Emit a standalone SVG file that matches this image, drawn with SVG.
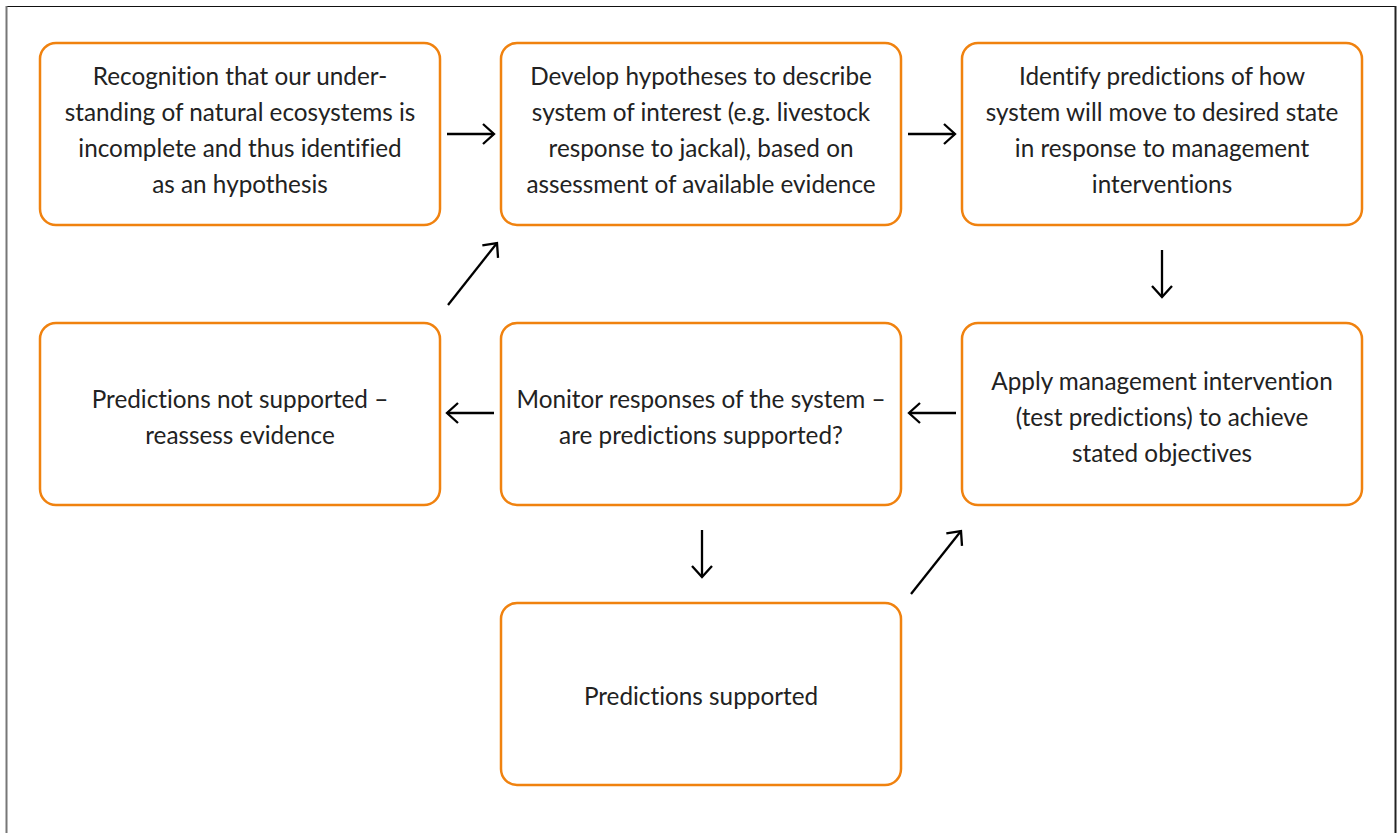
<svg xmlns="http://www.w3.org/2000/svg" width="1400" height="833" viewBox="0 0 1400 833">
<defs>
<marker id="ah" viewBox="0 0 16 24" refX="13" refY="12" markerWidth="16" markerHeight="24" markerUnits="userSpaceOnUse" orient="auto">
<path d="M2,2 L13,12 L2,22" fill="none" stroke="#000" stroke-width="2.3"/>
</marker>
<style>
.box{fill:#fff;stroke:#F0820F;stroke-width:2.5}
.t{font-family:Lato,"Open Sans","Liberation Sans",sans-serif;font-size:24.3px;fill:#222;text-anchor:middle;font-variant-ligatures:none}
.c{stroke:#000;stroke-width:2.3;fill:none;marker-end:url(#ah)}
</style>
</defs>
<rect width="1400" height="833" fill="#fff"/>
<line x1="6" y1="6.5" x2="1396" y2="6.5" stroke="#111" stroke-width="1"/>
<line x1="6.5" y1="6" x2="6.5" y2="833" stroke="#777" stroke-width="2"/>
<line x1="1395.5" y1="6" x2="1395.5" y2="833" stroke="#222" stroke-width="2"/>
<g id="n1"><rect class="box" x="40" y="43" width="400" height="182" rx="16"/>
<text class="t" x="240"><tspan x="240" y="85">Recognition that our under-</tspan><tspan x="240" y="121">standing of natural ecosystems is</tspan><tspan x="240" y="157">incomplete and thus identified</tspan><tspan x="240" y="193">as an hypothesis</tspan></text></g>
<g id="n2"><rect class="box" x="501" y="43" width="400" height="182" rx="16"/>
<text class="t" x="701"><tspan x="701" y="85">Develop hypotheses to describe</tspan><tspan x="701" y="121">system of interest (e.g. livestock</tspan><tspan x="701" y="157">response to jackal), based on</tspan><tspan x="701" y="193">assessment of available evidence</tspan></text></g>
<g id="n3"><rect class="box" x="962" y="43" width="400" height="182" rx="16"/>
<text class="t" x="1162"><tspan x="1162" y="85">Identify predictions of how</tspan><tspan x="1162" y="121">system will move to desired state</tspan><tspan x="1162" y="157">in response to management</tspan><tspan x="1162" y="193">interventions</tspan></text></g>
<g id="n4"><rect class="box" x="40" y="323" width="400" height="182" rx="16"/>
<text class="t" x="240"><tspan x="240" y="408">Predictions not supported –</tspan><tspan x="240" y="444">reassess evidence</tspan></text></g>
<g id="n5"><rect class="box" x="501" y="323" width="400" height="182" rx="16"/>
<text class="t" x="701"><tspan x="701" y="408">Monitor responses of the system –</tspan><tspan x="701" y="444">are predictions supported?</tspan></text></g>
<g id="n6"><rect class="box" x="962" y="323" width="400" height="182" rx="16"/>
<text class="t" x="1162"><tspan x="1162" y="390">Apply management intervention</tspan><tspan x="1162" y="426">(test predictions) to achieve</tspan><tspan x="1162" y="462">stated objectives</tspan></text></g>
<g id="n7"><rect class="box" x="501" y="603" width="400" height="182" rx="16"/>
<text class="t" x="701" y="705">Predictions supported</text></g>
<g id="connectors">
<line class="c" x1="447" y1="134" x2="494" y2="134"/>
<line class="c" x1="908" y1="134" x2="955" y2="134"/>
<line class="c" x1="1162" y1="250" x2="1162" y2="297"/>
<line class="c" x1="956" y1="413" x2="909" y2="413"/>
<line class="c" x1="494" y1="413" x2="447" y2="413"/>
<line class="c" x1="702" y1="530" x2="702" y2="577"/>
<line class="c" x1="448" y1="305" x2="497" y2="243"/>
<line class="c" x1="911" y1="594" x2="961" y2="531"/>
</g>
</svg>
